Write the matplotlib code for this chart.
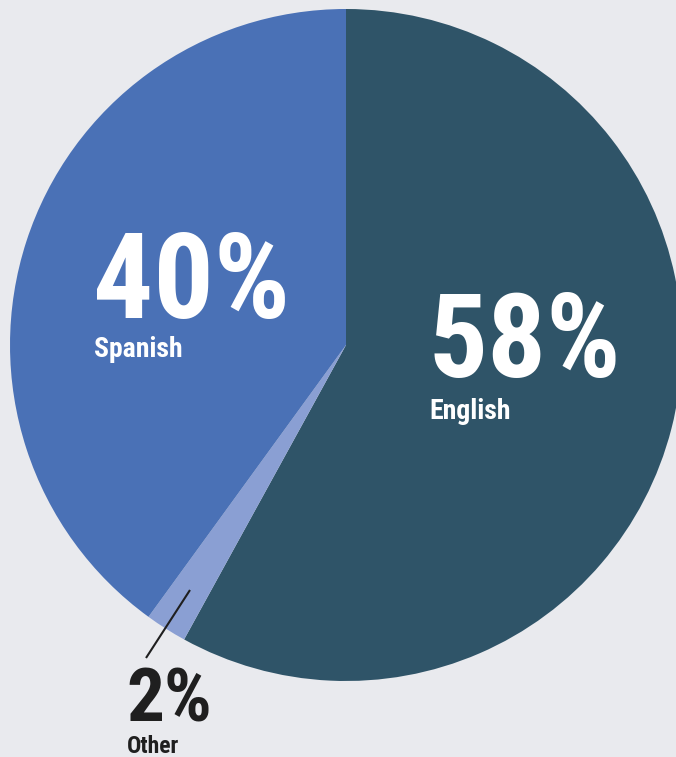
import matplotlib
matplotlib.use("Agg")
import matplotlib.pyplot as plt
from matplotlib import font_manager
from matplotlib.font_manager import FontProperties

# Language spoken at home, share of respondents
languages = ['English', 'Other', 'Spanish']
shares = [58, 2, 40]
colors = ['#2F5468', '#8A9FD3', '#4A71B6']

bg = '#E9EAEE'
dark = '#1F1F1F'


def narrow_bold():
    # prefer a condensed bold face if one is installed
    cands = []
    for f in font_manager.fontManager.ttflist:
        fn = f.fname.lower()
        if ('condensed' in fn or 'narrow' in fn or f.stretch in ('condensed', 'semi-condensed', 'extra-condensed')) \
                and 'bold' in fn and 'italic' not in fn and 'oblique' not in fn and 'semibold' not in fn \
                and 'extrabold' not in fn:
            cands.append(f)
    order = ['roboto', 'opensans', 'open', 'dejavu', 'liberation', 'noto']
    cands.sort(key=lambda f: next((i for i, k in enumerate(order) if k in f.fname.lower()), 99))
    if cands:
        return FontProperties(fname=cands[0].fname)
    return FontProperties(family='DejaVu Sans', weight='bold')


fp = narrow_bold()

W, H = 676, 757
fig = plt.figure(figsize=(W / 100, H / 100), dpi=100, facecolor=bg)
ax = fig.add_axes([0, 0, 1, 1])

cx, cy, r = 346, H - 345, 336
ax.pie(shares, colors=colors, startangle=90, counterclock=False,
       center=(cx, cy), radius=r, frame=True,
       wedgeprops=dict(linewidth=0))
ax.set_xlim(0, W)
ax.set_ylim(0, H)
ax.set_aspect('equal')
ax.axis('off')


def label(x, y, value, name, size, sub, color, gap):
    ax.text(x, H - y, f'{value}%', fontproperties=fp, fontsize=size,
            color=color, ha='left', va='baseline')
    ax.text(x + 1, H - y - gap, name, fontproperties=fp, fontsize=sub,
            color=color, ha='left', va='baseline')


label(93, 318, shares[2], languages[2], 86, 20, 'white', 39)
label(428, 377, shares[0], languages[0], 84, 20, 'white', 42)
label(126, 722, shares[1], languages[1], 54, 17, dark, 31)

# leader line for the small slice
ax.plot([190, 146], [H - 590, H - 658], color=dark, lw=1.5,
        solid_capstyle='butt')

fig.savefig('out.png', dpi=100, facecolor=bg)
